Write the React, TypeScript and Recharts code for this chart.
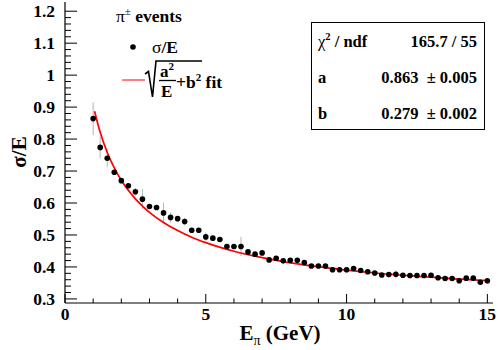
import React from 'react';
import { ComposedChart, Scatter, Line, XAxis, YAxis, ErrorBar } from 'recharts';

// ---- data ----
const energies = [
  1.0, 1.25, 1.5, 1.75, 2.0, 2.25, 2.5, 2.75, 3.0, 3.25, 3.5, 3.75, 4.0, 4.25, 4.5, 4.75,
  5.0, 5.25, 5.5, 5.75, 6.0, 6.25, 6.5, 6.75, 7.0, 7.25, 7.5, 7.75, 8.0, 8.25, 8.5, 8.75,
  9.0, 9.25, 9.5, 9.75, 10.0, 10.25, 10.5, 10.75, 11.0, 11.25, 11.5, 11.75, 12.0, 12.25,
  12.5, 12.75, 13.0, 13.25, 13.5, 13.75, 14.0, 14.25, 14.5, 14.75, 15.0,
];
const sigmaOverE = [
  0.864, 0.774, 0.740, 0.696, 0.670, 0.654, 0.635, 0.612, 0.589, 0.586, 0.569, 0.555, 0.551, 0.542, 0.515, 0.515,
  0.494, 0.490, 0.486, 0.464, 0.464, 0.464, 0.447, 0.440, 0.444, 0.422, 0.427, 0.419, 0.421, 0.421, 0.414, 0.403,
  0.403, 0.403, 0.391, 0.391, 0.391, 0.395, 0.389, 0.385, 0.381, 0.375, 0.376, 0.377, 0.374, 0.373,
  0.373, 0.373, 0.374, 0.366, 0.364, 0.364, 0.357, 0.365, 0.365, 0.352, 0.357,
];
const sigmaErr = [
  0.051, 0.034, 0.028, 0.006, 0.006, 0.008, 0.012, 0.031, 0.006, 0.006, 0.032, 0.016, 0.006, 0.012, 0.006, 0.006,
  0.013, 0.006, 0.006, 0.006, 0.006, 0.030, 0.006, 0.006, 0.006, 0.006, 0.006, 0.006, 0.005, 0.005, 0.005, 0.005,
  0.005, 0.005, 0.005, 0.005, 0.005, 0.005, 0.005, 0.005, 0.005, 0.005, 0.005, 0.012, 0.005, 0.005,
  0.005, 0.005, 0.005, 0.005, 0.005, 0.005, 0.005, 0.005, 0.005, 0.005, 0.005,
];
const fitEnergies = [1.05, 1.25, 1.5, 1.75, 2, 2.5, 3, 3.5, 4, 4.5, 5, 6, 7, 8, 9, 10, 11, 12, 13, 14, 15];
const fitValues = [
  0.887, 0.821, 0.758, 0.710, 0.671, 0.613, 0.571, 0.539, 0.514, 0.493, 0.476, 0.449, 0.429, 0.413,
  0.401, 0.390, 0.381, 0.374, 0.368, 0.362, 0.357,
];
const xTickLabels = ['0', '5', '10', '15'];
const yTickLabels = ['0.3', '0.4', '0.5', '0.6', '0.7', '0.8', '0.9', '1', '1.1', '1.2'];
const statsNames = ['a', 'b'];
const statsValues = ['0.863', '0.279'];
const statsErrors = ['0.005', '0.002'];
const chi2Text = '165.7 / 55';

const points = energies.map((E, i) => ({ E, v: sigmaOverE[i], err: sigmaErr[i] }));
const fitCurve = fitEnergies.map((E, i) => ({ E, v: fitValues[i] }));

const xMajor = xTickLabels.map(Number);
const yMajor = yTickLabels.map(Number);
const xTicks: number[] = [];
for (let i = 0; i <= 15; i++) xTicks.push(i);
const yTicks: number[] = [];
for (let i = 0; i <= 45; i++) yTicks.push(Math.round((0.3 + i * 0.02) * 1000) / 1000);

const FONT = '"Liberation Serif", "DejaVu Serif", serif';
const W = 498;
const H = 350;
const Y_DOMAIN: [number, number] = [0.2872, 1.2288];
const X_DOMAIN: [number, number] = [0, 15.2];

const txt = { fontFamily: FONT, fontWeight: 'bold' as const };

const XTick = (props: any) => {
  const { x, y, payload } = props;
  const v = payload.value;
  const idx = xMajor.findIndex((m) => Math.abs(m - v) < 1e-6);
  const major = idx >= 0;
  return (
    <g>
      <line x1={x} x2={x} y1={y} y2={y - (major ? 9 : 4.5)} stroke="#000" strokeWidth={1} />
      {major && (
        <text x={x} y={y + 17} textAnchor="middle" style={txt} fontSize={17.5} fill="#000">
          {xTickLabels[idx]}
        </text>
      )}
    </g>
  );
};

const YTick = (props: any) => {
  const { x, y, payload } = props;
  const v = payload.value;
  const idx = yMajor.findIndex((m) => Math.abs(m - v) < 1e-6);
  const major = idx >= 0;
  return (
    <g>
      <line x1={x} x2={x + (major ? 12 : 6)} y1={y} y2={y} stroke="#000" strokeWidth={1} />
      {major && (
        <text x={x - 10} y={y + 6} textAnchor="end" style={txt} fontSize={17.5} fill="#000">
          {yTickLabels[idx]}
        </text>
      )}
    </g>
  );
};

const Dot = (props: any) => <circle cx={props.cx} cy={props.cy} r={2.8} fill="#000" />;

export default function App() {
  return (
    <div style={{ position: 'absolute', left: 0, top: 0, width: W, height: H, background: '#fff' }}>
      <ComposedChart width={W} height={H} margin={{ top: 2, right: 5, bottom: 0, left: 0 }}>
        <XAxis
          xAxisId="b"
          type="number"
          dataKey="E"
          domain={X_DOMAIN}
          ticks={xTicks}
          interval={0}
          tickSize={0}
          tickMargin={0}
          tickLine={false}
          tick={<XTick />}
          height={47}
          axisLine={{ stroke: '#000', strokeWidth: 1.2 }}
          allowDataOverflow
        />
        <XAxis
          xAxisId="t"
          orientation="top"
          type="number"
          domain={X_DOMAIN}
          height={0}
          tick={false}
          tickLine={false}
          axisLine={{ stroke: '#000', strokeWidth: 1.2 }}
        />
        <YAxis
          yAxisId="l"
          type="number"
          dataKey="v"
          domain={Y_DOMAIN}
          ticks={yTicks}
          interval={0}
          tickSize={0}
          tickMargin={0}
          tickLine={false}
          tick={<YTick />}
          width={65}
          axisLine={{ stroke: '#000', strokeWidth: 1.2 }}
          allowDataOverflow
        />
        <YAxis
          yAxisId="r"
          orientation="right"
          type="number"
          domain={Y_DOMAIN}
          width={0}
          tick={false}
          tickLine={false}
          axisLine={{ stroke: '#000', strokeWidth: 1.2 }}
        />
        <Scatter
          xAxisId="b"
          yAxisId="l"
          data={points}
          dataKey="v"
          shape={<Dot />}
          isAnimationActive={false}
        >
          <ErrorBar dataKey="err" direction="y" width={0} stroke="#b4b4b4" strokeWidth={1} isAnimationActive={false} />
        </Scatter>
        <Line
          xAxisId="b"
          yAxisId="l"
          data={fitCurve}
          dataKey="v"
          type="monotone"
          stroke="#ff0000"
          strokeWidth={1.7}
          dot={false}
          activeDot={false}
          isAnimationActive={false}
        />
      </ComposedChart>
      <svg
        width={W}
        height={H}
        style={{ position: 'absolute', left: 0, top: 0, pointerEvents: 'none', fontFamily: FONT, fontWeight: 'bold' }}
      >
        {/* axis titles */}
        <text x={280} y={340} textAnchor="middle" fontSize={21} fill="#000">
          <tspan>E</tspan>
          <tspan dy={5} fontSize={14} style={{ fontWeight: 'normal' }}>π</tspan>
          <tspan dy={-5}> (GeV)</tspan>
        </text>
        <text x={0} y={0} transform="translate(26,152) rotate(-90)" textAnchor="middle" fontSize={21} fill="#000">
          σ/E
        </text>

        {/* legend */}
        <text x={116} y={22} fontSize={17.5} fill="#000">
          <tspan style={{ fontWeight: 'normal' }}>π</tspan>
          <tspan dy={-7} fontSize={11} style={{ fontWeight: 'normal' }}>±</tspan>
          <tspan dy={7}> events</tspan>
        </text>
        <circle cx={133} cy={47} r={2.8} fill="#000" />
        <text x={152} y={53} fontSize={17.5} fill="#000">
          <tspan style={{ fontWeight: 'normal' }}>σ</tspan>
          <tspan>/E</tspan>
        </text>
        <line x1={122} x2={145} y1={80} y2={80} stroke="#ff0000" strokeWidth={1} />
        <path d="M145 74 L148.5 71.5 L152.5 97 L156 61 L202 61" fill="none" stroke="#000" strokeWidth={1.6} />
        <text x={160} y={77} fontSize={17} fill="#000">
          a<tspan dy={-7} fontSize={11}>2</tspan>
        </text>
        <line x1={159} x2={176} y1={80.5} y2={80.5} stroke="#000" strokeWidth={1.3} />
        <text x={161} y={96.5} fontSize={17} fill="#000">E</text>
        <text x={176} y={88} fontSize={17.5} fill="#000">
          +b<tspan dy={-7} fontSize={11}>2</tspan>
          <tspan dy={7}> fit</tspan>
        </text>

        {/* stats box */}
        <rect x={311.5} y={22.5} width={173} height={107} fill="#fff" stroke="#000" strokeWidth={1} />
        <text x={318} y={47} fontSize={16.5} fill="#000">
          <tspan style={{ fontWeight: 'normal' }}>χ</tspan>
          <tspan dy={-7} fontSize={10.5}>2</tspan>
          <tspan dy={7}> / ndf</tspan>
        </text>
        <text x={477} y={47} textAnchor="end" fontSize={16.5} fill="#000">{chi2Text}</text>
        {statsNames.map((n, i) => (
          <g key={n}>
            <text x={318} y={83 + i * 36} fontSize={16.5} fill="#000">{n}</text>
            <text x={477} y={83 + i * 36} textAnchor="end" fontSize={16.5} fill="#000" style={{ whiteSpace: 'pre' }}>
              {statsValues[i] + '  ± ' + statsErrors[i]}
            </text>
          </g>
        ))}
      </svg>
    </div>
  );
}
